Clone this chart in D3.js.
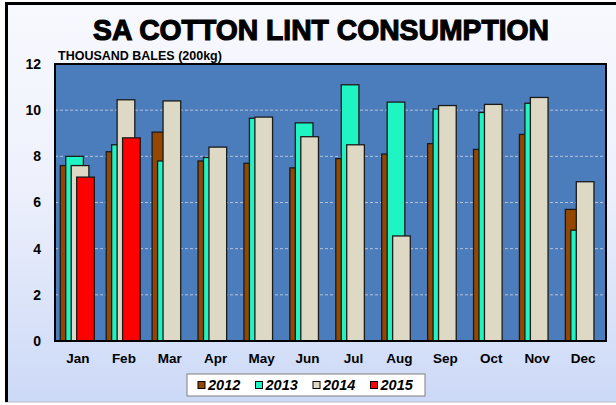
<!DOCTYPE html>
<html>
<head>
<meta charset="utf-8">
<script src="https://cdn.jsdelivr.net/npm/d3@7"></script>
<style>
  body { margin: 0; background: #ffffff; }
  svg { display: block; font-family: "Liberation Sans", Arial, sans-serif; }
</style>
</head>
<body>
<div id="canvas"></div>
<script>
// data
var months = ["Jan", "Feb", "Mar", "Apr", "May", "Jun", "Jul", "Aug", "Sep", "Oct", "Nov", "Dec"];
var years = ["2012", "2013", "2014", "2015"];
var v2012 = [7.6, 8.2, 9.05, 7.8, 7.7, 7.5, 7.9, 8.1, 8.55, 8.3, 8.95, 5.7];
var v2013 = [8.0, 8.5, 7.8, 7.95, 9.65, 9.45, 11.1, 10.35, 10.05, 9.9, 10.3, 4.8];
var v2014 = [7.6, 10.45, 10.4, 8.4, 9.7, 8.85, 8.5, 4.55, 10.2, 10.25, 10.55, 6.9];
var v2015 = [7.1, 8.8, null, null, null, null, null, null, null, null, null, null];
var yTicks = [0, 2, 4, 6, 8, 10, 12];

var seriesValues = [v2012, v2013, v2014, v2015];
var seriesColors = ["#934700", "#1ff5c2", "#ddd9c4", "#ff0000"];

var canvasWidth = 616, canvasHeight = 405;
var plotLeft = 55, plotTop = 64, plotRight = 606, plotBottom = 341;

var svg = d3.select("#canvas").append("svg")
    .attr("width", canvasWidth)
    .attr("height", canvasHeight)
    .attr("viewBox", "0 0 " + canvasWidth + " " + canvasHeight);

var defs = svg.append("defs");
var grad = defs.append("linearGradient")
    .attr("id", "bgGrad")
    .attr("x1", 0).attr("y1", 0).attr("x2", 0).attr("y2", 1);
grad.append("stop").attr("offset", "0%").attr("stop-color", "#f8f9fe");
grad.append("stop").attr("offset", "45%").attr("stop-color", "#eef1fc");
grad.append("stop").attr("offset", "100%").attr("stop-color", "#ccd9f7");

// outer chart area
svg.append("rect")
    .attr("x", 5).attr("y", 3)
    .attr("width", canvasWidth).attr("height", 399)
    .attr("fill", "url(#bgGrad)");
svg.append("line")
    .attr("x1", 5).attr("x2", canvasWidth)
    .attr("y1", 402).attr("y2", 402)
    .attr("stroke", "#b8bcc8").attr("stroke-width", 1);
svg.append("rect")
    .attr("x", 5).attr("y", 2)
    .attr("width", 3).attr("height", 400)
    .attr("fill", "#000");
svg.append("rect")
    .attr("x", 5).attr("y", 2)
    .attr("width", canvasWidth).attr("height", 3)
    .attr("fill", "#000");

// title
svg.append("text")
    .attr("x", 321).attr("y", 40)
    .attr("font-size", 30)
    .attr("font-weight", "bold")
    .attr("stroke", "#000").attr("stroke-width", 1.2)
    .attr("id", "title")
    .text("SA COTTON LINT CONSUMPTION");
// place title so it spans roughly x 92..550 like the original
var tt = d3.select("#title");
var tw = tt.node().getComputedTextLength();
tt.attr("textLength", 456).attr("lengthAdjust", "spacingAndGlyphs").attr("x", 93);

svg.append("text")
    .attr("x", 58).attr("y", 60)
    .attr("font-size", 12.5)
    .attr("font-weight", "bold")
    .text("THOUSAND BALES (200kg)");

// scales
var x = d3.scaleBand().domain(months).range([plotLeft, plotRight]).padding(0);
var y = d3.scaleLinear().domain([0, 12]).range([plotBottom, plotTop]);

svg.append("rect")
    .attr("x", plotLeft).attr("y", plotTop)
    .attr("width", plotRight - plotLeft).attr("height", plotBottom - plotTop)
    .attr("fill", "#4b7dbd");

// gridlines
svg.append("g").selectAll("line")
    .data(yTicks.filter(function(d) { return d > 0 && d < 12; }))
    .enter().append("line")
    .attr("x1", plotLeft).attr("x2", plotRight)
    .attr("y1", function(d) { return y(d); })
    .attr("y2", function(d) { return y(d); })
    .attr("stroke", "#b9c3d6")
    .attr("stroke-width", 1)
    .attr("stroke-dasharray", "3,2");

// bars
var bw = x.bandwidth();
var barWidth = bw * 0.385;
var barStep = bw * 0.119;
var barStart = bw * 0.115;

seriesValues.forEach(function(vals, i) {
    var rows = months.map(function(m, j) { return {month: m, value: vals[j]}; })
        .filter(function(d) { return d.value != null; });
    svg.append("g").selectAll("rect")
        .data(rows)
        .enter().append("rect")
        .attr("x", function(d) { return x(d.month) + barStart + i * barStep; })
        .attr("y", function(d) { return y(d.value); })
        .attr("width", barWidth)
        .attr("height", function(d) { return y(0) - y(d.value); })
        .attr("fill", seriesColors[i])
        .attr("stroke", "#1a1a1a")
        .attr("stroke-width", 1.3);
});

// plot border
svg.append("rect")
    .attr("x", plotLeft).attr("y", plotTop)
    .attr("width", plotRight - plotLeft).attr("height", plotBottom - plotTop)
    .attr("fill", "none")
    .attr("stroke", "#000")
    .attr("stroke-width", 2);

// axes
var yAxis = d3.axisLeft(y).tickValues(yTicks).tickSize(0).tickPadding(14);
var yg = svg.append("g").attr("transform", "translate(" + plotLeft + ",0)").call(yAxis);
yg.select(".domain").remove();
yg.selectAll("text")
    .attr("font-size", 14)
    .attr("font-weight", "bold")
    .attr("font-family", "Liberation Sans, Arial, sans-serif")
    .attr("fill", "#000");

var xAxis = d3.axisBottom(x).tickSize(0).tickPadding(12);
var xg = svg.append("g").attr("transform", "translate(0," + plotBottom + ")").call(xAxis);
xg.select(".domain").remove();
xg.selectAll("text")
    .attr("font-size", 13.5)
    .attr("font-weight", "bold")
    .attr("font-family", "Liberation Sans, Arial, sans-serif")
    .attr("fill", "#000");

// legend
var legendX = 187, legendY = 374, legendW = 238, legendH = 22;
svg.append("rect")
    .attr("x", legendX).attr("y", legendY)
    .attr("width", legendW).attr("height", legendH)
    .attr("fill", "#fff")
    .attr("stroke", "#7f7f7f")
    .attr("stroke-width", 1);

var legendItems = svg.append("g").selectAll("g")
    .data(years)
    .enter().append("g")
    .attr("transform", function(d, i) { return "translate(" + (legendX + 11 + i * 57.5) + "," + (legendY + 11) + ")"; });
legendItems.append("rect")
    .attr("x", 0).attr("y", -3.5)
    .attr("width", 7).attr("height", 7)
    .attr("fill", function(d, i) { return seriesColors[i]; })
    .attr("stroke", "#000")
    .attr("stroke-width", 1);
legendItems.append("text")
    .attr("x", 10).attr("y", 5)
    .attr("font-size", 14.5)
    .attr("font-weight", "bold")
    .attr("font-style", "italic")
    .text(function(d) { return d; });
</script>
</body>
</html>
